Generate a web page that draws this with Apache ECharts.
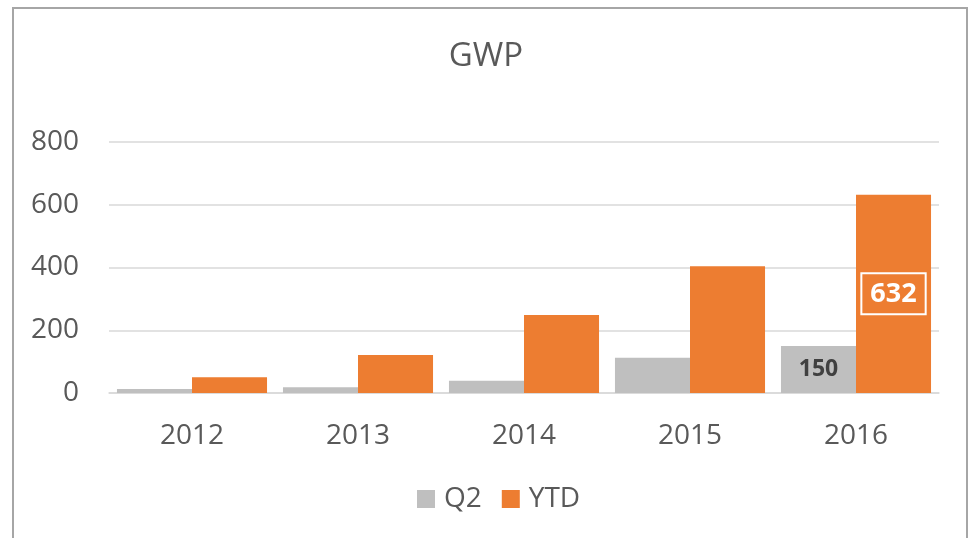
<!DOCTYPE html>
<html>
<head>
<meta charset="utf-8">
<title>GWP</title>
<script src="https://cdn.jsdelivr.net/npm/echarts@6/dist/echarts.min.js"></script>
<style>
    html, body { margin: 0; padding: 0; background: #fff; }
    #chart { width: 972px; height: 538px; }
</style>
</head>
<body>
<div id="chart"></div>
<script>
const years = ["2012", "2013", "2014", "2015", "2016"];
const q2Values = [13, 18, 39, 112, 150];
const ytdValues = [50, 121, 249, 404, 632];
const labelledIndex = 4; // only 2016 carries data labels

const textColor = "#595959";
const fontFamily = "'Open Sans', 'Noto Sans', sans-serif";

const chart = echarts.init(document.getElementById("chart"));

function withLabel(values, label) {
    return values.map((v, i) => (i === labelledIndex ? { value: v, label } : v));
}

chart.setOption({
    animation: false,
    textStyle: { fontFamily },
    title: {
        text: "GWP",
        left: "center",
        top: 35,
        textStyle: { color: textColor, fontSize: 33, fontWeight: "normal", fontFamily }
    },
    graphic: [
        {
            type: "rect",
            shape: { x: 13, y: 8, width: 954, height: 600 },
            style: { fill: "none", stroke: "#a6a6a6", lineWidth: 2 },
            silent: true
        }
    ],
    legend: {
        bottom: 20,
        left: 412,
        itemWidth: 18,
        itemHeight: 18,
        itemGap: 20,
        icon: "rect",
        textStyle: { color: textColor, fontSize: 28, fontFamily, padding: [0, 0, 0, 4] },
        data: ["Q2", "YTD"]
    },
    grid: { left: 109, right: 33, top: 142, bottom: 145 },
    xAxis: {
        type: "category",
        data: years,
        axisLine: { lineStyle: { color: "#d9d9d9", width: 1.5 } },
        axisTick: { show: false },
        axisLabel: { color: textColor, fontSize: 28, margin: 29, fontFamily }
    },
    yAxis: {
        type: "value",
        min: 0,
        max: 800,
        interval: 200,
        axisLine: { show: false },
        axisTick: { show: false },
        axisLabel: { color: textColor, fontSize: 28, margin: 30, fontFamily },
        splitLine: { lineStyle: { color: "#d9d9d9", width: 1.5 } }
    },
    series: [
        {
            name: "Q2",
            type: "bar",
            barGap: "0%",
            barCategoryGap: "9.6%",
            itemStyle: { color: "#bfbfbf" },
            data: withLabel(q2Values, {
                show: true,
                position: "inside",
                color: "#404040",
                fontSize: 23,
                fontWeight: "bold",
                fontFamily
            })
        },
        {
            name: "YTD",
            type: "bar",
            barGap: "0%",
            barCategoryGap: "9.6%",
            itemStyle: { color: "#ed7d31" },
            data: withLabel(ytdValues, {
                show: true,
                position: "inside",
                color: "#ffffff",
                fontSize: 27,
                fontWeight: "bold",
                fontFamily,
                borderColor: "#ffffff",
                borderWidth: 2,
                padding: [7, 9]
            })
        }
    ]
});
</script>
</body>
</html>
